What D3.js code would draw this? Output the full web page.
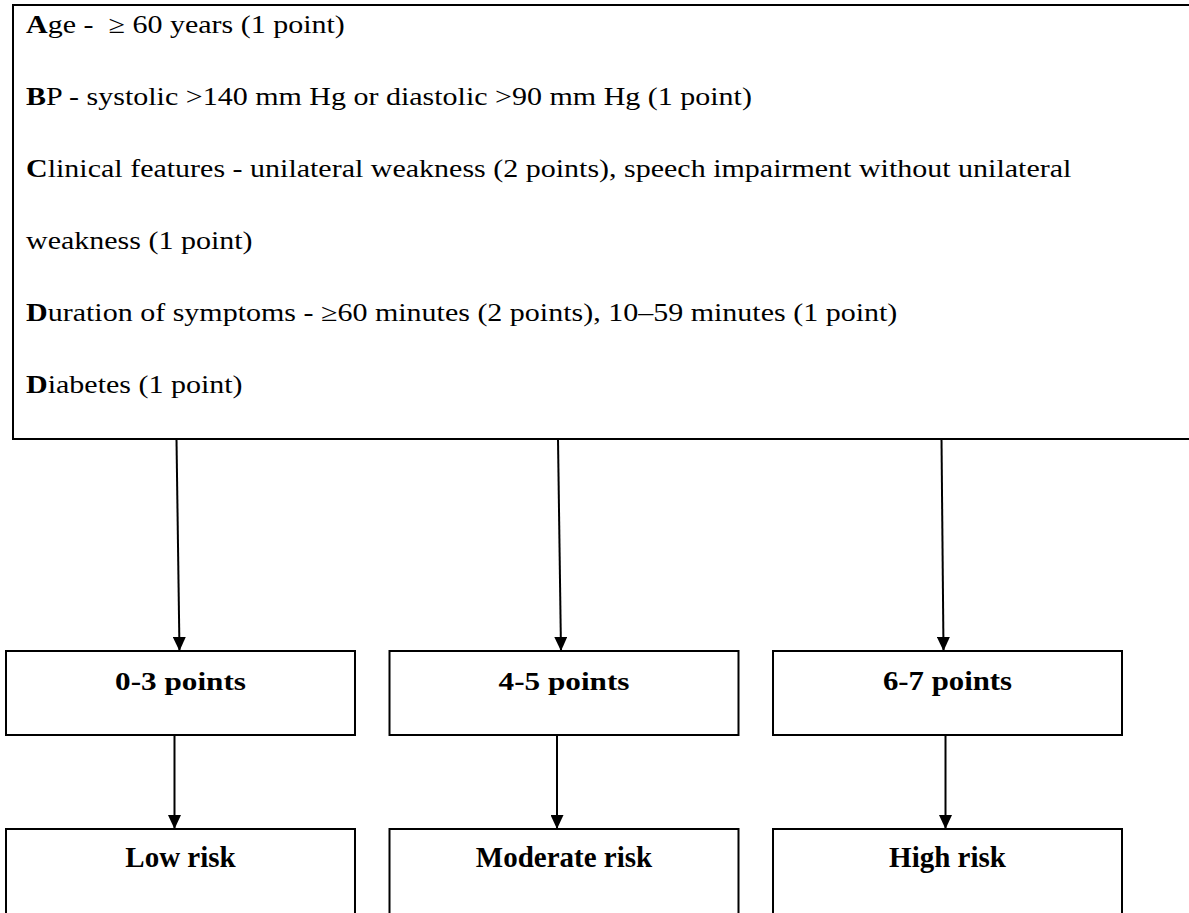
<!DOCTYPE html>
<html>
<head>
<meta charset="utf-8">
<script src="https://cdn.jsdelivr.net/npm/d3@7"></script>
<style>
    body { margin: 0; background: #ffffff; }
    svg { display: block; }
    text { white-space: pre; font-family: 'Liberation Serif', 'Times New Roman', serif; fill: #000; }
</style>
</head>
<body>
<div id="chart"></div>
<script>
// Criteria (bold initial + rest of line)
const criteriaInitials = ["A", "B", "C", "", "D", "D"];
const criteriaRest = [
    "ge -  \u2265 60 years (1 point)",
    "P - systolic >140 mm Hg or diastolic >90 mm Hg (1 point)",
    "linical features - unilateral weakness (2 points), speech impairment without unilateral",
    "weakness (1 point)",
    "uration of symptoms - \u226560 minutes (2 points), 10\u201359 minutes (1 point)",
    "iabetes (1 point)"
];

// Score groups and outcomes
const scoreGroups = ["0-3 points", "4-5 points", "6-7 points"];
const riskLevels = ["Low risk", "Moderate risk", "High risk"];

const width = 1189;
const height = 913;

const svg = d3.select("#chart")
    .append("svg")
    .attr("width", width)
    .attr("height", height);

// arrow head, drawn along +x so orient="auto" points it down the line
svg.append("defs").append("marker")
    .attr("id", "arrow")
    .attr("viewBox", "0 0 14 13")
    .attr("refX", 14)
    .attr("refY", 6.5)
    .attr("markerWidth", 14)
    .attr("markerHeight", 13)
    .attr("markerUnits", "userSpaceOnUse")
    .attr("orient", "auto")
    .append("path")
    .attr("d", "M0,0 L14,6.5 L0,13 Z")
    .attr("fill", "#000");

// top criteria box (right side runs off the page)
const topBox = { x: 13, y: 5, bottom: 439 };
svg.append("rect")
    .attr("x", topBox.x)
    .attr("y", topBox.y)
    .attr("width", width + 20)
    .attr("height", topBox.bottom - topBox.y)
    .attr("fill", "none")
    .attr("stroke", "#000")
    .attr("stroke-width", 2);

const rowY = d3.scaleLinear().domain([0, 1]).range([33, 105]);
const stretch = 1.2; // the original face is much wider than Times

const rows = svg.selectAll("text.crit")
    .data(criteriaRest)
    .enter()
    .append("text")
    .attr("class", "crit")
    .attr("transform", (d, i) => `translate(26,${rowY(i)}) scale(${stretch},1)`)
    .style("font-size", "25px");

rows.append("tspan")
    .style("font-weight", "bold")
    .text((d, i) => criteriaInitials[i]);
rows.append("tspan")
    .text(d => d);

// columns
const col = d3.scaleBand()
    .domain(scoreGroups)
    .range([6, 1122])
    .paddingInner(0.09);
const cx = d => col(d) + col.bandwidth() / 2;

const midTop = 651, midBottom = 735, lowTop = 829;

// arrows from top box to score boxes (slightly slanted like the original)
const topOff = [-4, -6, -6];
const botOff = [-1, -3, -4];
svg.selectAll("line.a1")
    .data(scoreGroups)
    .enter()
    .append("line")
    .attr("x1", (d, i) => cx(d) + topOff[i])
    .attr("y1", topBox.bottom)
    .attr("x2", (d, i) => cx(d) + botOff[i])
    .attr("y2", midTop)
    .attr("stroke", "#000")
    .attr("stroke-width", 2)
    .attr("marker-end", "url(#arrow)");

// score boxes
svg.selectAll("rect.mid")
    .data(scoreGroups)
    .enter()
    .append("rect")
    .attr("x", d => col(d))
    .attr("y", midTop)
    .attr("width", col.bandwidth())
    .attr("height", midBottom - midTop)
    .attr("fill", "none")
    .attr("stroke", "#000")
    .attr("stroke-width", 2);

svg.selectAll("text.mid")
    .data(scoreGroups)
    .enter()
    .append("text")
    .attr("transform", (d, i) => `translate(${cx(d)},690) scale(${i === 2 ? 1.1 : 1.2},1)`)
    .attr("text-anchor", "middle")
    .style("font-weight", "bold")
    .style("font-size", (d, i) => i === 2 ? "28px" : "26px")
    .text(d => d);

// arrows to risk boxes
const lowOff = [-6, -7, -2];
svg.selectAll("line.a2")
    .data(scoreGroups)
    .enter()
    .append("line")
    .attr("x1", (d, i) => cx(d) + lowOff[i])
    .attr("y1", midBottom)
    .attr("x2", (d, i) => cx(d) + lowOff[i])
    .attr("y2", lowTop)
    .attr("stroke", "#000")
    .attr("stroke-width", 2)
    .attr("marker-end", "url(#arrow)");

// risk boxes (cut off by the bottom of the page)
svg.selectAll("rect.low")
    .data(riskLevels)
    .enter()
    .append("rect")
    .attr("x", (d, i) => col(scoreGroups[i]))
    .attr("y", lowTop)
    .attr("width", col.bandwidth())
    .attr("height", 200)
    .attr("fill", "none")
    .attr("stroke", "#000")
    .attr("stroke-width", 2);

svg.selectAll("text.low")
    .data(riskLevels)
    .enter()
    .append("text")
    .attr("x", (d, i) => cx(scoreGroups[i]))
    .attr("y", 867)
    .attr("text-anchor", "middle")
    .style("font-weight", "bold")
    .style("font-size", "29px")
    .text(d => d);
</script>
</body>
</html>
